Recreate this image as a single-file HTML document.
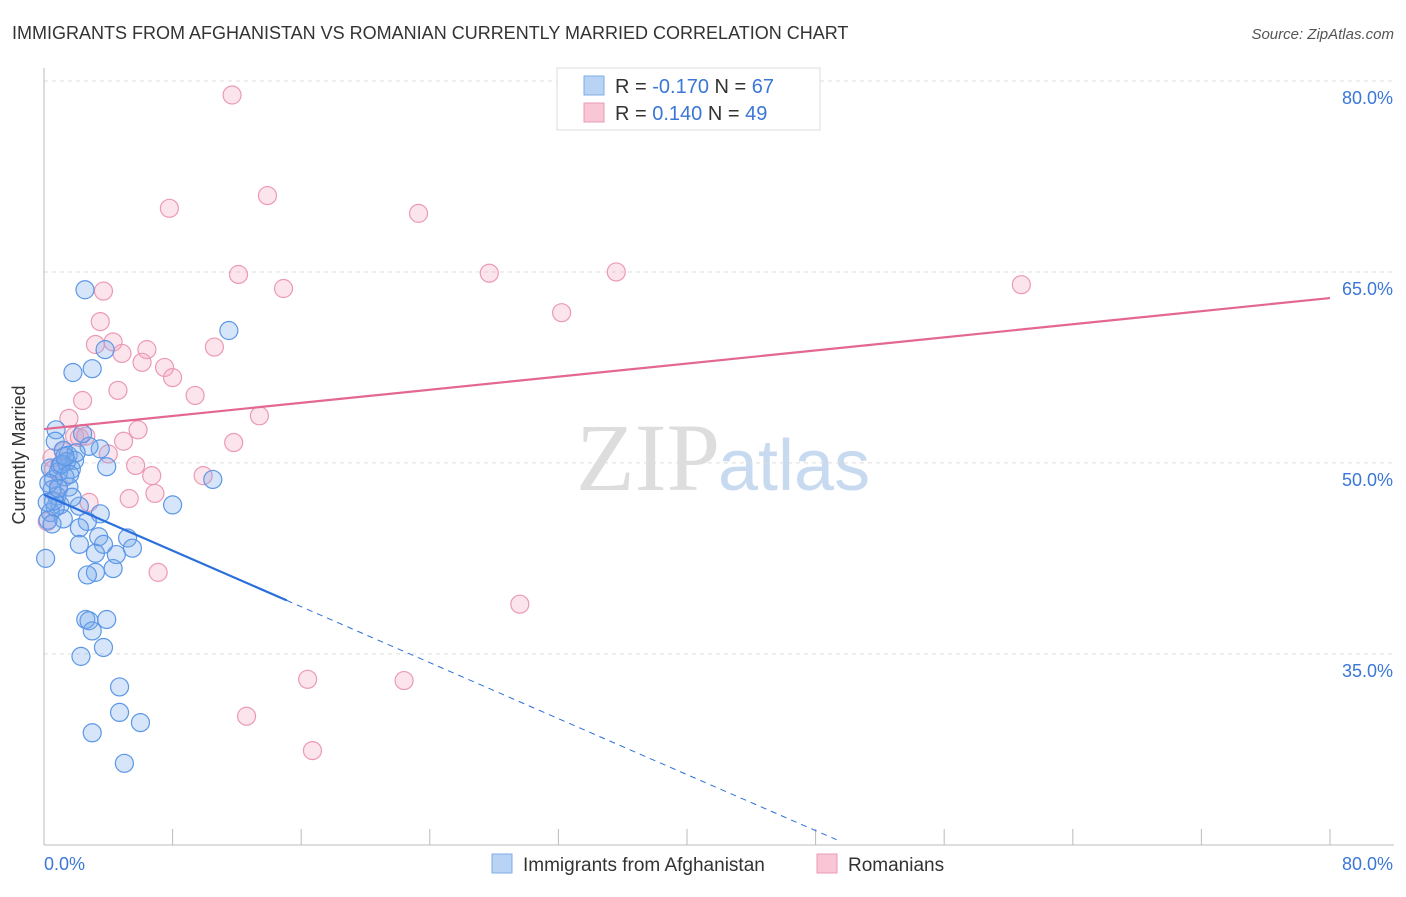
<!DOCTYPE html>
<html><head><meta charset="utf-8"><style>
body{margin:0;background:#fff;font-family:"Liberation Sans",sans-serif}
</style></head><body>
<svg width="1406" height="892" xmlns="http://www.w3.org/2000/svg" font-family="Liberation Sans, sans-serif">
<text x="12" y="39" font-size="18" fill="#333">IMMIGRANTS FROM AFGHANISTAN VS ROMANIAN CURRENTLY MARRIED CORRELATION CHART</text>
<text x="1394" y="39" font-size="15" fill="#555" font-style="italic" text-anchor="end">Source: ZipAtlas.com</text>
<text x="720" y="490" font-size="96" fill="#ddd" text-anchor="end" font-family="Liberation Serif, serif">ZIP</text>
<text x="718" y="490" font-size="72" fill="#c8daf0">atlas</text>
<g id="grid"></g>
<g id="axes"></g>
<g id="pts"></g>
<g id="lines"></g>
<text x="25" y="455" font-size="18" fill="#333" transform="rotate(-90 25 455)" text-anchor="middle">Currently Married</text>
<g>
<rect x="557" y="68" width="263" height="62" fill="#fff" stroke="#ddd"/>
<rect x="584" y="76" width="20" height="19" fill="#b9d3f5" stroke="#7eaee8"/>
<text x="615" y="93" font-size="20" fill="#333">R = <tspan fill="#3a77d6">-0.170</tspan>   N = <tspan fill="#3a77d6">67</tspan></text>
<rect x="584" y="103" width="20" height="19" fill="#f9c6d5" stroke="#eb9ab3"/>
<text x="615" y="120" font-size="20" fill="#333">R =  <tspan fill="#3a77d6"> 0.140</tspan>   N = <tspan fill="#3a77d6">49</tspan></text>
</g>
<g>
<rect x="492" y="854" width="20" height="19" fill="#b9d3f5" stroke="#7eaee8"/>
<text x="523" y="871" font-size="19" fill="#333">Immigrants from Afghanistan</text>
<rect x="817" y="854" width="20" height="19" fill="#f9c6d5" stroke="#eb9ab3"/>
<text x="848" y="871" font-size="19" fill="#333">Romanians</text>
</g>
</svg>
<script>
const yTicks=[80,65,50,35];
const yTickLabels=["80.0%","65.0%","50.0%","35.0%"];
const xTicks=[0,8,16,24,32,40,48,56,64,72,80];
const blueX=[2.55,11.5,3.8,3.0,1.8,0.75,0.7,1.2,3.5,2.8,1.5,1.9,0.4,1.0,1.7,3.9,10.5,0.6,1.3,1.55,0.8,1.0,8.0,2.2,0.4,3.5,1.2,2.7,0.25,2.2,3.4,5.2,2.2,3.7,5.5,3.2,4.5,0.1,4.3,3.2,2.7,2.6,2.8,3.9,3.0,3.7,2.3,4.7,4.7,6.0,3.0,5.0,0.9,1.4,0.5,1.75,0.7,0.3,1.1,2.0,0.6,1.6,0.9,2.4,0.2,1.3,0.5];
const blueY=[63.6,60.4,58.9,57.4,57.1,52.6,51.7,51.0,51.1,51.3,50.6,50.2,49.6,49.8,49.5,49.7,48.7,48.7,48.9,48.1,47.4,46.7,46.7,46.6,46.1,46.0,45.6,45.4,45.5,44.9,44.2,44.1,43.6,43.6,43.3,42.9,42.8,42.5,41.7,41.4,41.2,37.7,37.6,37.7,36.8,35.5,34.8,32.4,30.4,29.6,28.8,26.4,49.3,50.1,47.9,47.3,46.5,48.4,49.9,50.8,47.0,49.1,48.0,52.3,46.9,50.5,45.2];
const pinkX=[11.7,13.9,7.8,23.3,12.1,27.7,35.6,60.8,14.9,3.7,32.2,3.5,4.3,3.2,10.6,6.4,4.85,6.1,7.5,8.0,4.6,9.4,2.4,13.4,1.55,5.85,1.9,4.95,11.8,4.0,0.5,5.7,6.7,9.9,0.9,6.9,5.3,2.8,0.2,7.1,29.6,16.4,22.4,12.6,16.7,2.2,0.6,1.2,2.6];
const pinkY=[78.9,71.0,70.0,69.6,64.8,64.9,65.0,64.0,63.7,63.5,61.8,61.1,59.5,59.3,59.1,58.9,58.6,57.9,57.5,56.7,55.7,55.3,54.9,53.7,53.5,52.6,52.1,51.7,51.6,50.7,50.4,49.8,49.0,49.0,48.2,47.6,47.2,46.9,45.4,41.4,38.9,33.0,32.9,30.1,27.4,52.0,49.5,50.9,52.1];
const blueTrend=[0,47.5,15.1,39.2,49.3];
const pinkTrend=[0,52.66,80,62.95];
const NS="http://www.w3.org/2000/svg";
const X=v=>44+v*(1286/80);
const Y=v=>81+(80-v)*12.73;
function mk(t,a,p){const e=document.createElementNS(NS,t);for(const k in a)e.setAttribute(k,a[k]);document.getElementById(p).appendChild(e);return e;}
yTicks.forEach((t,i)=>{
 const l=mk('line',{x1:44,x2:1394,y1:Y(t),y2:Y(t),stroke:'#ddd','stroke-dasharray':'4,4'},'grid');
 
 
 const tx=mk('text',{x:1393,y:Y(t)+23,'font-size':18,fill:'#3a77d6','text-anchor':'end'},'axes');
 tx.textContent=yTickLabels[i];
 
 
});
const ya=mk('line',{x1:44,x2:44,y1:68,y2:845,stroke:'#bbb'},'axes');


const xa=mk('line',{x1:44,x2:1394,y1:845,y2:845,stroke:'#bbb'},'axes');


xTicks.forEach(t=>{
 const l=mk('line',{x1:X(t),x2:X(t),y1:829,y2:845,stroke:'#bbb'},'axes');
 
 
});
const x0=mk('text',{x:44,y:870,'font-size':18,fill:'#3a77d6'},'axes');x0.textContent='0.0%';


const x1=mk('text',{x:1393,y:870,'font-size':18,fill:'#3a77d6','text-anchor':'end'},'axes');x1.textContent='80.0%';


pinkX.forEach((v,i)=>{
 const c=mk('circle',{cx:X(v),cy:Y(pinkY[i]),r:9,fill:'rgba(244,166,192,0.3)',stroke:'#eb9ab3','stroke-width':1.2},'pts');
 
 
});
blueX.forEach((v,i)=>{
 const c=mk('circle',{cx:X(v),cy:Y(blueY[i]),r:9,fill:'rgba(120,170,235,0.3)',stroke:'#5c97e6','stroke-width':1.2},'pts');
 
 
});
const slope=(blueTrend[3]-blueTrend[1])/(blueTrend[2]-blueTrend[0]);
const bl=mk('line',{x1:X(blueTrend[0]),y1:Y(blueTrend[1]),x2:X(blueTrend[2]),y2:Y(blueTrend[3]),stroke:'#2a6fdb','stroke-width':2.2},'lines');


const bd=mk('line',{x1:X(blueTrend[2]),y1:Y(blueTrend[3]),x2:X(blueTrend[4]),y2:Y(blueTrend[1]+slope*blueTrend[4]),stroke:'#2a6fdb','stroke-width':1,'stroke-dasharray':'6,5'},'lines');


const pl=mk('line',{x1:X(pinkTrend[0]),y1:Y(pinkTrend[1]),x2:X(pinkTrend[2]),y2:Y(pinkTrend[3]),stroke:'#e3678f','stroke-width':2.2},'lines');


</script>
</body></html>
